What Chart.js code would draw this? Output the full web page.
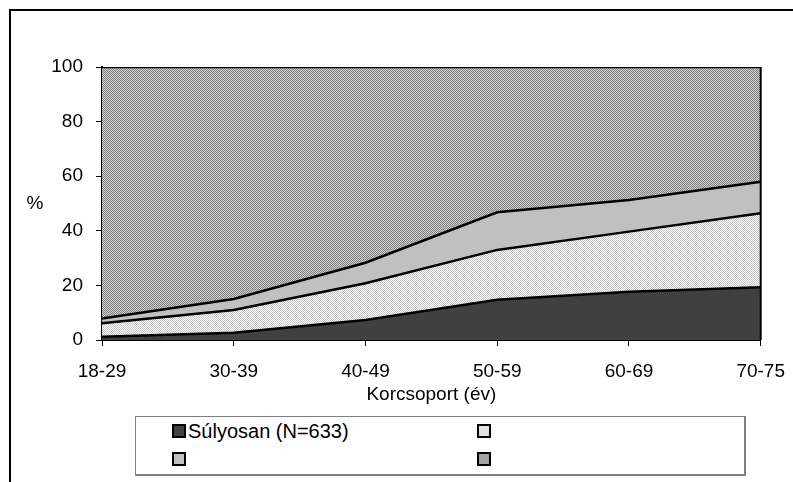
<!DOCTYPE html>
<html>
<head>
<meta charset="utf-8">
<script src="https://cdn.jsdelivr.net/npm/chart.js@4/dist/chart.umd.min.js"></script>
<style>
  body { margin: 0; background: #fff; font-family: "Liberation Sans", Arial, sans-serif; }
  #wrap { position: relative; width: 793px; height: 482px; }
  #legend { position: absolute; left: 135px; top: 416px; width: 608px; height: 57px;
    border: 1px solid #808080; border-right-width: 2px; border-bottom-width: 2px; background: #fff; }
  .item { position: absolute; font-size: 20px; color: #000; display: flex; align-items: center; height: 20px; }
  .sw { width: 10px; height: 10px; border: 2px solid #000; margin-right: 2px; }
</style>
</head>
<body>
<div id="wrap">
  <canvas id="chart" width="793" height="482"></canvas>
  <div id="legend"></div>
</div>
<script>
const ageGroups = ["18-29", "30-39", "40-49", "50-59", "60-69", "70-75"];
const seriesLabels = ["Súlyosan (N=633)", "", "", ""];
const severe = [1.2, 2.7, 7.3, 14.7, 17.7, 19.3];
const second = [4.9, 8.3, 13.5, 18.3, 22.0, 27.1];
const third = [1.8, 4.0, 7.5, 13.8, 11.6, 11.6];
const rest = [92.1, 85.0, 71.7, 53.2, 48.7, 42.0];
const yTicks = [0, 20, 40, 60, 80, 100];

const FONT = { size: 19, family: "'Liberation Sans', Arial, sans-serif" };

function checker(a, b) {
  const c = document.createElement("canvas");
  c.width = 2; c.height = 2;
  const g = c.getContext("2d");
  g.fillStyle = a; g.fillRect(0, 0, 2, 2);
  g.fillStyle = b; g.fillRect(0, 0, 1, 1); g.fillRect(1, 1, 1, 1);
  return g.createPattern(c, "repeat");
}

const fills = [
  "#404040",
  checker("#ffffff", "#c4c4c4"),
  "#c0c0c0",
  checker("#d0d0d0", "#808080"),
];
const swatchCss = ["#404040", "#e2e2e2", "#c0c0c0", "#a4a4a4"];

const frame = {
  id: "frame",
  afterDraw(chart) {
    const { ctx, chartArea: a } = chart;
    ctx.save();
    ctx.strokeStyle = "#000";
    ctx.lineWidth = 2;
    ctx.beginPath();
    ctx.moveTo(10, 482); ctx.lineTo(10, 10); ctx.lineTo(793, 10);
    ctx.stroke();
    ctx.beginPath();
    ctx.moveTo(a.right, a.top); ctx.lineTo(a.right, a.bottom);
    ctx.stroke();
    ctx.fillStyle = "#000";
    ctx.font = "19px 'Liberation Sans', Arial, sans-serif";
    ctx.textAlign = "center";
    ctx.textBaseline = "middle";
    ctx.fillText("%", 35, (a.top + a.bottom) / 2);
    ctx.restore();
  },
};

const dataSets = [severe, second, third, rest].map((d, i) => ({
  label: seriesLabels[i],
  data: d,
  backgroundColor: fills[i],
  borderColor: "#000",
  borderWidth: 2.5,
  pointRadius: 0,
  tension: 0,
  fill: i === 0 ? "origin" : "-1",
}));

new Chart(document.getElementById("chart"), {
  type: "line",
  data: { labels: ageGroups, datasets: dataSets },
  options: {
    responsive: false,
    animation: false,
    layout: { padding: { left: 0, top: 67, right: 26, bottom: 76 } },
    plugins: { legend: { display: false }, tooltip: { enabled: false } },
    scales: {
      x: {
        offset: false,
        grid: { drawOnChartArea: false, tickLength: 6, color: "#000", lineWidth: 1 },
        border: { color: "#000", width: 2 },
        // tall line height pushes labels down without the wide side padding ticks.padding adds
        ticks: { color: "#000", font: { ...FONT, lineHeight: 1.9 }, padding: 8, maxRotation: 0 },
        title: { display: true, text: "Korcsoport (év)", color: "#000", padding: 0, font: FONT },
        afterFit: (s) => { s.height = 66; },
      },
      y: {
        stacked: true,
        min: 0, max: 100,
        afterBuildTicks: (s) => { s.ticks = yTicks.map((v) => ({ value: v })); },
        grid: { drawOnChartArea: false, tickLength: 6, color: "#000", lineWidth: 1 },
        border: { color: "#000", width: 2 },
        ticks: { color: "#000", font: FONT, padding: 13 },
        afterFit: (s) => { s.width = 102; },
      },
    },
  },
  plugins: [frame],
});

const pos = [[172, 421], [477, 421], [172, 449], [477, 449]];
const legend = document.getElementById("legend");
legend.innerHTML = seriesLabels.map((l, i) =>
  `<div class="item" style="left:${pos[i][0] - 136}px;top:${pos[i][1] - 417}px"><span class="sw" style="background:${swatchCss[i]}"></span>${l}</div>`
).join("");
</script>
</body>
</html>
